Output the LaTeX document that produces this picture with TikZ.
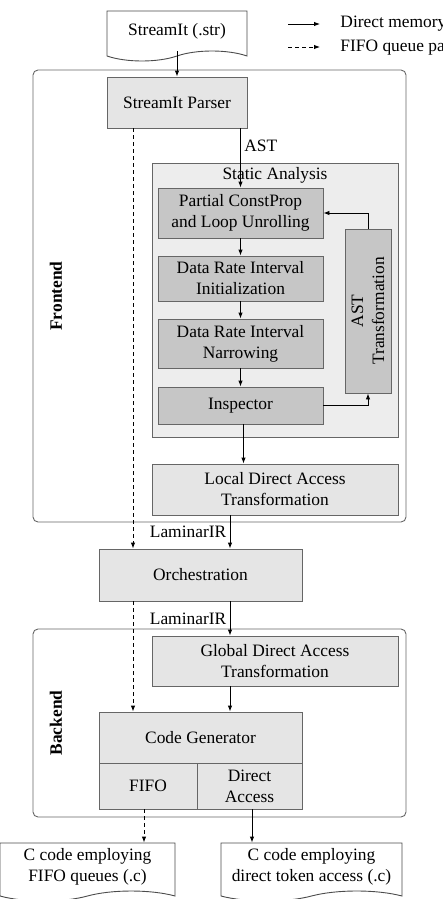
\documentclass[tikz,border=0pt]{standalone}
\usepackage{fontspec}
\setmainfont{Liberation Serif}
\usetikzlibrary{shapes.symbols,arrows.meta}

\tikzset{
  stage/.style={draw=gray!80!black,fill=gray!20,align=center,inner sep=0pt},
  pass/.style={draw=gray!80!black,fill=gray!45,align=center,inner sep=0pt},
  doc/.style={draw=black!70,fill=white,tape,tape bend top=none,tape bend bottom=in and out,
    tape bend height=10pt,align=center,inner sep=0pt},
  group/.style={draw=gray!80!black,rounded corners=5pt},
  flow/.style={-{Latex[length=6pt,width=4.5pt]}},
  fifoflow/.style={flow,dashed,dash pattern=on 4pt off 3pt},
}

\begin{document}
\begin{tikzpicture}[x=1pt,y=-1pt,every node/.style={font=\fontsize{17.4}{21}\selectfont},line width=0.9pt]
    \useasboundingbox (0,0) rectangle (442,899);

    % Rahmen für Frontend und Backend
    \draw[group] (33,70) rectangle (406,522);
    \draw[group] (33,629) rectangle (406,817);
    \node[rotate=90,font=\fontsize{17.4}{21}\selectfont\bfseries] (fe) at (56,296) {Frontend};
    \node[rotate=90,font=\fontsize{17.4}{21}\selectfont\bfseries] (be) at (56,723) {Backend};

    % Statische Analyse
    \draw[draw=gray!80!black,fill=gray!14] (152,163) rectangle (398,437);
    \node (salbl) at (275,175) {Static Analysis};

    \node[doc,minimum width=140pt,minimum height=50pt] (src) at (177,31) {StreamIt (.str)};
    \node[stage,minimum width=140pt,minimum height=51pt] (parser) at (177,102.5) {StreamIt Parser};

    \node[pass,minimum width=165pt,minimum height=50pt] (pcp) at (240.5,213) {Partial ConstProp\\and Loop Unrolling};
    \node[pass,minimum width=165pt,minimum height=45pt] (dri) at (240.5,278.5) {Data Rate Interval\\Initialization};
    \node[pass,minimum width=165pt,minimum height=49pt] (drn) at (240.5,343.5) {Data Rate Interval\\Narrowing};
    \node[pass,minimum width=165pt,minimum height=37pt] (insp) at (240.5,405.5) {Inspector};
    \node[pass,minimum width=164pt,minimum height=46pt,rotate=90] (astt) at (368,311) {AST\\Transformation};

    \node[stage,minimum width=246pt,minimum height=51pt] (ldat) at (275,489.5) {Local Direct Access\\Transformation};
    \node[stage,minimum width=203pt,minimum height=52pt] (orch) at (200.5,575) {Orchestration};
    \node[stage,minimum width=246pt,minimum height=50pt] (gdat) at (275,661) {Global Direct Access\\Transformation};
    \node[stage,minimum width=203pt,minimum height=51pt] (cg) at (200.5,737.5) {Code Generator};
    \node[stage,minimum width=98pt,minimum height=46pt] (fifo) at (148,786) {FIFO};
    \node[stage,minimum width=105pt,minimum height=46pt] (da) at (249.5,786) {Direct\\Access};

    \node[doc,minimum width=175pt,minimum height=58pt] (cfifo) at (87.5,867) {C code employing\\FIFO queues (.c)};
    \node[doc,minimum width=181pt,minimum height=58pt] (cdirect) at (311.5,867) {C code employing\\direct token access (.c)};

    % Legende
    \coordinate (l1a) at (288,24);
    \coordinate (l1b) at (320,24);
    \coordinate (l2a) at (288,47);
    \coordinate (l2b) at (320,47);
    \draw[flow] (l1a) -- (l1b) node[right,inner sep=0pt,xshift=20pt] (lg1) {Direct memory access};
    \draw[fifoflow] (l2a) -- (l2b) node[right,inner sep=0pt,xshift=20pt] (lg2) {FIFO queue path};

    % Verbindungen
    \draw[flow] (src.south) -- (parser.north);
    \draw[flow] (parser.south -| pcp.north) -- node[right,pos=.3] (astlbl) {AST} (pcp.north);
    \draw[flow] (pcp) -- (dri);
    \draw[flow] (dri) -- (drn);
    \draw[flow] (drn) -- (insp);
    \draw[flow] (insp.east) -| (astt.west);
    \draw[flow] (astt.east) |- (pcp.east);
    \draw[flow] ([xshift=3pt]insp.south) -- ([xshift=3pt]insp.south |- ldat.north);
    \draw[flow] (ldat.south -| 230,0) -- node[left] (lir1) {LaminarIR} (orch.north -| 230,0);
    \draw[flow] (orch.south -| 230,0) -- node[left] (lir2) {LaminarIR} (gdat.north -| 230,0);
    \draw[flow] (gdat.south -| 230,0) -- (cg.north -| 230,0);
    \draw[fifoflow] (parser.south -| 133,0) -- (orch.north -| 133,0);
    \draw[fifoflow] (orch.south -| 133,0) -- (cg.north -| 133,0);
    \draw[fifoflow] (fifo.south -| 144,0) -- (cfifo.north -| 144,0);
    \draw[flow] (da.south -| 252,0) -- (cdirect.north -| 252,0);
\end{tikzpicture}
\end{document}
